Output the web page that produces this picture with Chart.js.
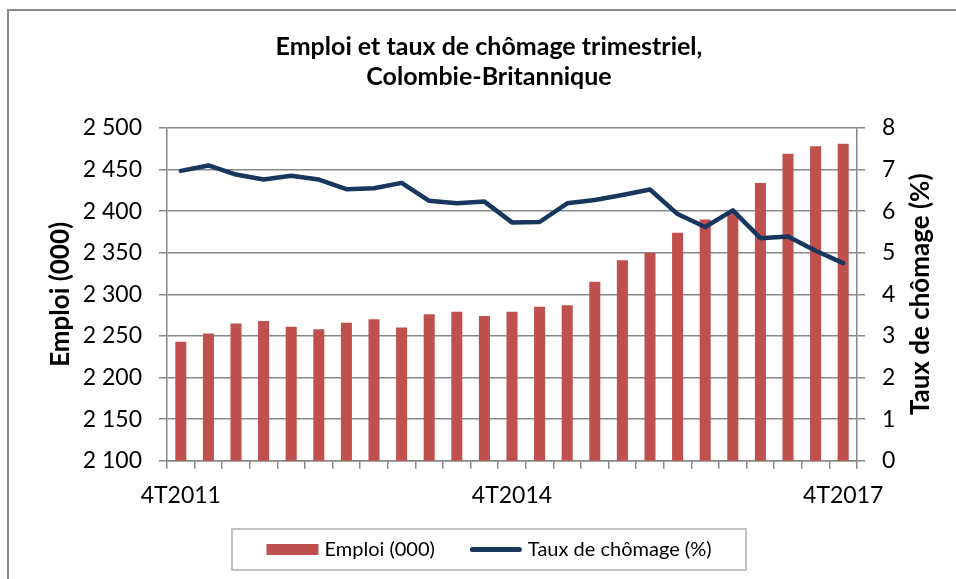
<!DOCTYPE html>
<html>
<head>
<meta charset="utf-8">
<script src="https://cdn.jsdelivr.net/npm/chart.js@4/dist/chart.umd.min.js"></script>
<style>
  html, body { margin: 0; padding: 0; background: #fff; }
  #c { display: block; }
</style>
</head>
<body>
<canvas id="c" width="956" height="579"></canvas>
<script>
// ---- Data ----
const quarters = [
  '4T2011', '1T2012', '2T2012', '3T2012', '4T2012',
  '1T2013', '2T2013', '3T2013', '4T2013',
  '1T2014', '2T2014', '3T2014', '4T2014',
  '1T2015', '2T2015', '3T2015', '4T2015',
  '1T2016', '2T2016', '3T2016', '4T2016',
  '1T2017', '2T2017', '3T2017', '4T2017'
];
const emploi = [
  2243, 2253, 2265, 2268, 2261, 2258, 2266, 2270, 2260,
  2276, 2279, 2274, 2279, 2285, 2287, 2315, 2341,
  2350, 2374, 2390, 2399, 2434, 2469, 2478, 2481
];
const chomage = [
  6.97, 7.10, 6.88, 6.76, 6.85, 6.76, 6.53, 6.55, 6.68,
  6.25, 6.19, 6.23, 5.73, 5.74, 6.19, 6.27, 6.39,
  6.52, 5.93, 5.62, 6.02, 5.35, 5.39, 5.05, 4.75
];
const xTickLabels = ['4T2011', '4T2014', '4T2017'];
const titleLines = ['Emploi et taux de chômage trimestriel,', 'Colombie-Britannique'];
const seriesNames = ['Emploi (000)', 'Taux de chômage (%)'];
const leftAxisTitle = 'Emploi (000)';
const rightAxisTitle = 'Taux de chômage (%)';

// ---- Styles ----
const FONT = 'Lato';
const GRID = '#888888';
const RED = '#C0504D';
const NAVY = '#17375E';

const frameAndLegend = {
  id: 'frameAndLegend',
  beforeDraw(chart) {
    const ctx = chart.ctx;
    ctx.save();
    ctx.fillStyle = '#ffffff';
    ctx.fillRect(0, 0, chart.width, chart.height);
    ctx.strokeStyle = '#8a8a8a';
    ctx.lineWidth = 2;
    ctx.beginPath();
    ctx.moveTo(8, chart.height);
    ctx.lineTo(8, 10);
    ctx.lineTo(chart.width, 10);
    ctx.stroke();
    ctx.restore();
  },
  afterDraw(chart) {
    const ctx = chart.ctx;
    const ds = chart.data.datasets;
    const area = chart.chartArea;
    ctx.save();
    // right axis title, reading bottom to top
    const r = chart.scales.y1;
    ctx.font = 'bold 26px ' + FONT;
    ctx.fillStyle = '#000';
    ctx.textAlign = 'center';
    ctx.textBaseline = 'middle';
    ctx.translate(r.right - 35, (area.top + area.bottom) / 2);
    ctx.rotate(-Math.PI / 2);
    ctx.fillText(rightAxisTitle, 0, 0);
    ctx.setTransform(1, 0, 0, 1, 0, 0);

    // legend box below the axis
    ctx.font = '20px ' + FONT;
    const symW = 52, gap = 6, itemGap = 35, padX = 34;
    const w0 = ctx.measureText(ds[0].label).width;
    const w1 = ctx.measureText(ds[1].label).width;
    const contentW = symW + gap + w0 + itemGap + symW + gap + w1;
    const cx = (chart.options.layout.padding.left + chart.width) / 2;
    const boxL = Math.round(cx - contentW / 2 - padX);
    const boxR = Math.round(cx + contentW / 2 + padX);
    const boxT = 529, boxB = 570;
    ctx.strokeStyle = '#c0c0c0';
    ctx.lineWidth = 2;
    ctx.strokeRect(boxL, boxT, boxR - boxL, boxB - boxT);
    const cy = (boxT + boxB) / 2;
    let x = cx - contentW / 2;
    ctx.fillStyle = ds[0].backgroundColor;
    ctx.fillRect(x, cy - 5.5, symW, 11);
    x += symW + gap;
    ctx.fillStyle = '#000';
    ctx.textBaseline = 'middle';
    ctx.textAlign = 'left';
    ctx.fillText(ds[0].label, x, cy);
    x += w0 + itemGap;
    ctx.strokeStyle = ds[1].borderColor;
    ctx.lineWidth = 5;
    ctx.lineCap = 'round';
    ctx.beginPath();
    ctx.moveTo(x + 2.5, cy);
    ctx.lineTo(x + symW - 2.5, cy);
    ctx.stroke();
    x += symW + gap;
    ctx.fillText(ds[1].label, x, cy);
    ctx.restore();
  }
};

const spaced = v => String(v).replace(/\B(?=(\d{3})+(?!\d))/g, ' ');

new Chart(document.getElementById('c'), {
  data: {
    labels: quarters,
    datasets: [
      {
        type: 'bar',
        label: seriesNames[0],
        data: emploi,
        backgroundColor: RED,
        borderWidth: 0,
        yAxisID: 'y',
        order: 1,
        categoryPercentage: 1.0,
        barPercentage: 0.4
      },
      {
        type: 'line',
        label: seriesNames[1],
        data: chomage,
        borderColor: NAVY,
        backgroundColor: NAVY,
        borderWidth: 4.5,
        pointRadius: 0,
        tension: 0,
        borderCapStyle: 'round',
        borderJoinStyle: 'round',
        yAxisID: 'y1',
        order: 0
      }
    ]
  },
  options: {
    responsive: false,
    animation: false,
    devicePixelRatio: 1,
    layout: { padding: { left: 22, right: 0, top: 0, bottom: 51 } },
    plugins: {
      legend: { display: false },
      tooltip: { enabled: false },
      title: {
        display: true,
        text: titleLines,
        color: '#000',
        font: { family: FONT, size: 25, weight: 'bold', lineHeight: 1.2 },
        padding: { top: 32, bottom: 36 }
      }
    },
    scales: {
      x: {
        type: 'category',
        offset: true,
        grid: {
          offset: true,
          drawOnChartArea: false,
          drawTicks: true,
          tickLength: 8,
          color: GRID,
          lineWidth: 1.5
        },
        border: { display: true, color: GRID, width: 1.5 },
        ticks: {
          autoSkip: false,
          maxRotation: 0,
          minRotation: 0,
          padding: 13,
          color: '#000',
          font: { family: FONT, size: 23 },
          callback: function (val) {
            const lab = this.getLabelForValue(val);
            return xTickLabels.includes(lab) ? lab : '';
          }
        },
        afterFit: s => { s.height = 67.3; }
      },
      y: {
        type: 'linear',
        position: 'left',
        min: 2100,
        max: 2500,
        ticks: {
          stepSize: 50,
          padding: 17,
          color: '#000',
          font: { family: FONT, size: 23 },
          callback: v => spaced(v)
        },
        grid: { color: GRID, lineWidth: 1.5, tickLength: 8, drawTicks: true },
        border: { display: true, color: GRID, width: 1.5 },
        title: {
          display: true,
          text: leftAxisTitle,
          color: '#000',
          font: { family: FONT, size: 26, weight: 'bold' },
          padding: { top: 23, bottom: 0 }
        },
        afterFit: s => { s.width = 145; }
      },
      y1: {
        type: 'linear',
        position: 'right',
        min: 0,
        max: 8,
        ticks: {
          stepSize: 1,
          padding: 17,
          color: '#000',
          font: { family: FONT, size: 23 }
        },
        grid: { drawOnChartArea: false, color: GRID, lineWidth: 1.5, tickLength: 8, drawTicks: true },
        border: { display: true, color: GRID, width: 1.5 },
        title: { display: false, text: rightAxisTitle },
        afterFit: s => { s.width = 99; }
      }
    }
  },
  plugins: [frameAndLegend]
});
</script>
</body>
</html>
